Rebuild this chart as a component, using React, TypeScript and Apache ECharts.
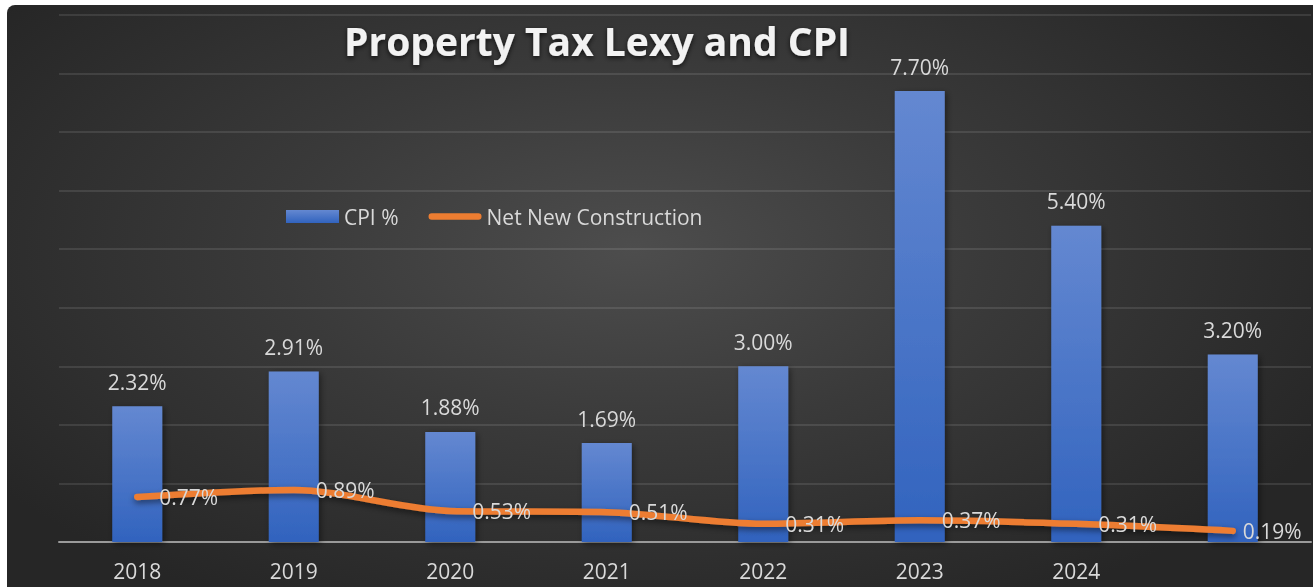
import React, { useEffect, useRef } from "react";
import * as echarts from "echarts";

const categories = ["2018", "2019", "2020", "2021", "2022", "2023", "2024", ""];
const cpiValues = [2.32, 2.91, 1.88, 1.69, 3.0, 7.7, 5.4, 3.2];
const netNewConstruction = [0.77, 0.89, 0.53, 0.51, 0.31, 0.37, 0.31, 0.19];
const yTicks = { min: 0, max: 9, interval: 1 };

const labelColor = "#d9d9d9";
const font = "'Open Sans', 'Noto Sans', sans-serif";

export default function App() {
  const ref = useRef<HTMLDivElement>(null);
  useEffect(() => {
    if (!ref.current) return;
    const chart = echarts.init(ref.current, undefined, { renderer: "svg" });
    chart.setOption({
      animation: false,
      backgroundColor: "transparent",
      textStyle: { fontFamily: font },
      title: {
        text: "Property Tax Lexy and CPI",
        left: 332,
        top: 8,
        textStyle: {
          color: "#f2f2f2",
          fontSize: 39,
          fontWeight: "bold",
          fontFamily: font,
          lineHeight: 44,
          textShadowColor: "rgba(0,0,0,0.7)",
          textShadowBlur: 5,
          textShadowOffsetY: 2,
        },
      },
      legend: {
        left: 274,
        top: 196,
        itemWidth: 53,
        itemHeight: 13,
        itemGap: 30,
        textStyle: { color: labelColor, fontSize: 21, fontFamily: font },
        data: [
          { name: "CPI %", icon: "rect" },
          {
            name: "Net New Construction",
            icon: "path://M3.5,0 H54.5 A3.5,3.5 0 0 1 54.5,7 H3.5 A3.5,3.5 0 0 1 3.5,0 Z",
            itemStyle: { color: "#ED7D31" },
          },
        ],
      },
      grid: { left: 52, right: 2, top: 10, bottom: 45, containLabel: false },
      xAxis: {
        type: "category",
        data: categories,
        axisTick: { show: false },
        axisLine: { lineStyle: { color: "#9a9a9a", width: 2 } },
        axisLabel: { color: labelColor, fontSize: 21, margin: 18, fontFamily: font },
      },
      yAxis: {
        type: "value",
        min: yTicks.min,
        max: yTicks.max,
        interval: yTicks.interval,
        axisLabel: { show: false },
        axisLine: { show: false },
        axisTick: { show: false },
        splitLine: { lineStyle: { color: "rgba(255,255,255,0.1)", width: 2 } },
      },
      series: [
        {
          name: "CPI %",
          type: "bar",
          data: cpiValues,
          barWidth: 50,
          itemStyle: {
            color: new echarts.graphic.LinearGradient(0, 0, 0, 1, [
              { offset: 0, color: "#6488d1" },
              { offset: 1, color: "#3163be" },
            ]),
            shadowColor: "rgba(0,0,0,0.45)",
            shadowBlur: 6,
            shadowOffsetX: 2,
            shadowOffsetY: 2,
          },
          label: {
            show: true,
            position: "top",
            distance: 14,
            color: labelColor,
            fontSize: 21,
            fontFamily: font,
            formatter: (p: any) => p.value.toFixed(2) + "%",
          },
        },
        {
          name: "Net New Construction",
          type: "line",
          data: netNewConstruction.map((v, i) =>
            i === netNewConstruction.length - 1
              ? { value: v, label: { distance: 10 } }
              : v
          ),
          smooth: 0.3,
          showSymbol: true,
          symbol: "circle",
          symbolSize: 0.01,
          lineStyle: {
            color: "#ED7D31",
            width: 6.5,
            cap: "round",
            shadowColor: "rgba(0,0,0,0.5)",
            shadowBlur: 6,
            shadowOffsetY: 3,
          },
          itemStyle: { color: "#ED7D31" },
          label: {
            show: true,
            position: "right",
            distance: 22,
            color: labelColor,
            fontSize: 21,
            fontFamily: font,
            formatter: (p: any) => p.value.toFixed(2) + "%",
          },
          z: 3,
        },
      ],
    });
    return () => chart.dispose();
  }, []);
  return (
    <div
      style={{
        position: "fixed",
        left: 7,
        top: 5,
        width: 1306,
        height: 582,
        borderTopLeftRadius: 8,
        overflow: "hidden",
        background:
          "radial-gradient(ellipse 60% 70% at 48% 42%, #4d4d4d 0%, #3a3a3a 45%, #262626 100%)",
      }}
    >
      <div ref={ref} style={{ width: 1306, height: 582 }} />
    </div>
  );
}
